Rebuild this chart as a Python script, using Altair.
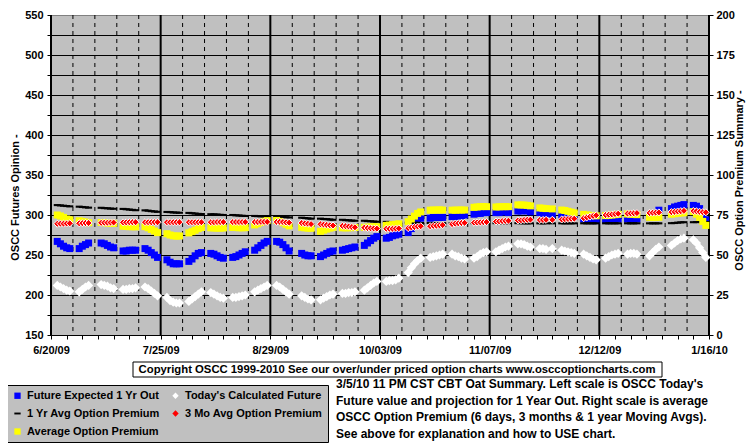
import altair as alt
import pandas as pd

FONT = "Liberation Sans"

# ---------------- data ----------------
holidays = ["2009-07-03", "2009-09-07", "2009-11-26", "2009-12-25", "2010-01-01"]
days = [d for d in pd.bdate_range("2009-06-22", "2010-01-15").strftime("%Y-%m-%d") if d not in holidays]

# Future Expected 1 Yr Out (left scale)
future_1yr = [
    267, 264, 261, 259, 258,
    258, 261, 263, 265,
    265, 264, 262, 260, 259,
    255, 255, 256, 256, 256,
    258, 256, 253, 250, 247,
    244, 241, 239, 239, 239,
    242, 245, 249, 252, 253,
    252, 251, 249, 247, 246,
    247, 248, 250, 252, 254,
    256, 259, 262, 265, 267,
    267, 266, 263, 259, 255,
    252, 250, 249, 249,
    248, 250, 252, 254, 255,
    256, 257, 258, 259, 260,
    262, 265, 268, 271, 273,
    271, 272, 274, 275, 276,
    278, 283, 288, 293, 296,
    296, 297, 297, 297, 297,
    298, 298, 299, 299, 300,
    301, 302, 302, 303, 303,
    303, 303, 304, 304, 303,
    305, 305, 306, 305, 304,
    303, 302, 302, 301,
    300, 300, 299, 298, 298,
    295, 294, 294, 293, 293,
    294, 294, 295, 295, 295,
    295, 295, 295, 295,
    297, 299, 302, 306,
    308, 310, 311, 312, 313,
    312, 311, 308, 300, 294,
]

# Today's Calculated Future (left scale)
today_calc = [
    212, 210, 208, 206, 205,
    204, 207, 210, 212,
    213, 212, 211, 209, 208,
    207, 207, 208, 208, 209,
    210, 208, 205, 202, 199,
    197, 193, 191, 190, 190,
    192, 195, 198, 201, 204,
    203, 201, 199, 197, 196,
    197, 197, 198, 199, 200,
    204, 206, 208, 210, 212,
    212, 210, 207, 204, 201,
    199, 197, 195, 194,
    194, 196, 198, 200, 201,
    202, 202, 203, 203, 204,
    206, 209, 212, 215, 217,
    217, 218, 218, 219, 221,
    228, 234, 239, 243, 246,
    247, 248, 249, 250, 251,
    251, 249, 248, 246, 245,
    246, 248, 251, 253, 254,
    254, 256, 258, 260, 261,
    264, 264, 263, 261, 260,
    258, 258, 257, 258,
    256, 255, 254, 253, 252,
    251, 249, 247, 245, 244,
    246, 248, 250, 251, 252,
    251, 252, 252, 251,
    249, 253, 257, 260,
    262, 265, 268, 270, 271,
    269, 265, 259, 253, 247,
]

# 1 Yr Avg Option Premium (right scale)
avg_1yr = [
    81.2, 81.0, 80.8, 80.6, 80.4,
    80.2, 80.0, 79.8, 79.6,
    79.5, 79.3, 79.2, 79.0, 78.9,
    78.8, 78.6, 78.4, 78.2, 78.0,
    77.9, 77.7, 77.4, 77.2, 77.0,
    76.9, 76.8, 76.6, 76.5, 76.4,
    76.3, 76.1, 75.9, 75.7, 75.6,
    75.5, 75.4, 75.3, 75.1, 75.0,
    75.0, 74.8, 74.7, 74.5, 74.4,
    74.4, 74.3, 74.2, 74.1, 74.0,
    74.0, 73.9, 73.7, 73.6, 73.5,
    73.3, 73.1, 72.9, 72.7,
    72.7, 72.5, 72.4, 72.2, 72.0,
    72.0, 71.8, 71.7, 71.5, 71.4,
    71.4, 71.2, 71.1, 70.9, 70.8,
    70.7, 70.6, 70.5, 70.4, 70.3,
    70.2, 70.2, 70.1, 70.1, 70.0,
    70.0, 70.0, 70.0, 69.9, 69.9,
    69.9, 69.9, 69.9, 69.9, 69.9,
    69.9, 69.9, 69.9, 69.9, 69.9,
    69.9, 69.9, 69.9, 69.9, 69.9,
    69.9, 69.9, 69.8, 69.8, 69.8,
    69.8, 69.8, 69.8, 69.8,
    69.8, 69.8, 69.8, 69.8, 69.8,
    69.8, 69.8, 69.8, 69.8, 69.8,
    69.8, 69.8, 69.8, 69.8, 69.8,
    69.8, 69.8, 69.8, 69.8,
    69.8, 69.8, 69.8, 69.8,
    69.9, 70.0, 70.2, 70.4, 70.5,
    70.5, 70.6, 70.6, 70.6, 70.6,
]

# 3 Mo Avg Option Premium (right scale)
avg_3mo = [
    69.5, 69.6, 69.6, 69.7, 69.8,
    69.8, 69.9, 70.0, 70.0,
    70.1, 70.2, 70.2, 70.3, 70.3,
    70.4, 70.4, 70.5, 70.5, 70.5,
    70.5, 70.5, 70.5, 70.5, 70.5,
    70.5, 70.5, 70.5, 70.5, 70.5,
    70.5, 70.5, 70.5, 70.5, 70.5,
    70.5, 70.5, 70.6, 70.6, 70.6,
    70.6, 70.6, 70.6, 70.6, 70.6,
    70.6, 70.6, 70.7, 70.7, 70.7,
    70.7, 70.7, 70.6, 70.4, 70.2,
    70.0, 69.7, 69.5, 69.3,
    69.2, 69.0, 68.8, 68.6, 68.4,
    68.2, 68.0, 67.8, 67.5, 67.3,
    67.1, 66.9, 66.7, 66.6, 66.5,
    66.4, 66.4, 66.4, 66.5, 66.6,
    66.8, 67.2, 67.5, 67.8, 68.0,
    68.0, 68.2, 68.3, 68.5, 68.7,
    69.3, 69.6, 69.8, 70.0, 70.1,
    70.2, 70.3, 70.4, 70.5, 70.6,
    70.9, 71.0, 71.2, 71.3, 71.4,
    71.6, 71.7, 71.9, 72.0, 72.1,
    71.9, 71.9, 72.0, 72.0,
    72.2, 72.4, 72.5, 72.6, 72.7,
    73.0, 73.5, 74.0, 74.4, 74.8,
    75.0, 75.2, 75.4, 75.6, 75.8,
    75.9, 76.0, 76.1, 76.2,
    76.3, 76.4, 76.5, 76.6,
    76.8, 77.0, 77.2, 77.4, 77.6,
    77.5, 77.3, 77.0, 76.8, 76.7,
]

# Average Option Premium (right scale)
avg_prem = [
    75.0, 74.4, 73.5, 72.5, 72.0,
    71.4, 71.0, 70.6, 70.2,
    70.3, 70.2, 70.0, 69.8, 69.8,
    68.0, 67.8, 67.7, 67.7, 67.6,
    67.7, 67.0, 66.0, 65.0, 64.0,
    63.3, 62.5, 62.0, 61.8, 61.9,
    63.8, 64.6, 65.5, 66.5, 67.2,
    67.0, 66.9, 66.8, 66.8, 66.9,
    67.2, 67.2, 67.0, 67.0, 67.1,
    68.8, 69.5, 70.3, 71.0, 71.5,
    71.6, 71.0, 70.2, 69.2, 68.2,
    67.3, 67.0, 66.8, 66.7,
    64.8, 65.5, 66.2, 66.8, 67.3,
    67.0, 67.0, 67.0, 67.1, 67.2,
    67.3, 67.4, 67.5, 67.6, 67.7,
    68.5, 68.7, 69.0, 69.2, 69.5,
    70.8, 72.5, 74.3, 76.0, 76.9,
    78.0, 78.1, 78.1, 78.2, 78.1,
    78.0, 78.0, 78.1, 78.1, 78.1,
    79.8, 80.0, 80.2, 80.3, 80.2,
    80.0, 80.1, 80.2, 80.2, 80.2,
    81.3, 81.3, 81.2, 81.0, 80.7,
    79.4, 79.2, 79.0, 78.8,
    78.1, 77.8, 77.3, 76.8, 76.3,
    75.4, 75.0, 74.8, 74.6, 74.5,
    74.6, 74.8, 75.0, 75.2, 75.4,
    75.6, 75.5, 75.4, 75.2,
    73.5, 73.5, 73.6, 73.6,
    75.5, 75.8, 76.1, 76.3, 76.4,
    77.1, 75.5, 73.5, 71.0, 68.5,
]

series_names = [
    "Future Expected 1 Yr Out",
    "Today's Calculated Future",
    "1 Yr Avg Option Premium",
    "3 Mo Avg Option Premium",
    "Average Option Premium",
]
series_colors = ["#0000FF", "#FFFFFF", "#000000", "#FF0000", "#FFFF00"]
DASH = "M-1,-0.3L1,-0.3L1,0.3L-1,0.3Z"
series_shapes = ["square", "diamond", DASH, "diamond", "square"]

major_dates = ["2009-06-20", "2009-07-25", "2009-08-29", "2009-10-03",
               "2009-11-07", "2009-12-12", "2010-01-16"]
weekly_dates = [d for d in pd.date_range("2009-06-27", "2010-01-09", freq="7D").strftime("%Y-%m-%d")
                if d not in major_dates]
tick_dates = pd.date_range("2009-06-20", "2010-01-16", freq="5D")

left_ticks = list(range(150, 551, 25))
right_ticks = list(range(0, 201, 25))

COPYRIGHT = "Copyright OSCC 1999-2010 See our over/under priced option charts www.osccoptioncharts.com"
INFO_LINES = [
    "3/5/10 11 PM CST CBT Oat Summary. Left scale is OSCC Today's",
    "Future value and projection for 1 Year Out. Right scale is average",
    "OSCC Option Premium (6  days, 3 months & 1 year Moving  Avgs).",
    "See above for explanation and how to USE chart.",
]

for s in (future_1yr, today_calc, avg_1yr, avg_3mo, avg_prem):
    assert len(s) == len(days), (len(s), len(days))

# ---------------- scales / axes ----------------
def dt(d):
    return alt.DateTime(year=d.year, month=d.month, date=d.day, utc=True)

x_scale = alt.Scale(type="utc", domain=[dt(pd.Timestamp("2009-06-20")), dt(pd.Timestamp("2010-01-16"))])
x_axis = alt.Axis(
    values=[dt(d) for d in tick_dates],
    labelExpr="(round((datum.value - utc(2009,5,20)) / 86400000) % 35 == 0) ? utcFormat(datum.value, '%-m/%d/%y') : ''",
    labelOverlap=False, labelFlush=False, grid=False, tickSize=4, labelPadding=5,
    title=None, domainColor="black", tickColor="black",
)
y_left_scale = alt.Scale(domain=[150, 550], nice=False, zero=False)
y_right_scale = alt.Scale(domain=[0, 200], nice=False, zero=False)
y_left_axis = alt.Axis(
    orient="left", values=left_ticks,
    labelExpr="datum.value % 50 == 0 ? datum.label : ''",
    grid=True, gridColor={"condition": {"test": "datum.value == 550", "value": "#808080"}, "value": "black"},
    gridWidth=1, gridOpacity=1, tickSize=4, labelPadding=4, domainColor="black", tickColor="black",
    title="OSCC Futures Opinion -", titleAngle=270, titleX=-36, titleY=182,
    titleAlign="center", titleBaseline="middle",
)
y_right_axis = alt.Axis(
    orient="right", values=right_ticks, grid=False, tickSize=4, labelPadding=3,
    domainColor="black", tickColor="black",
    title="OSCC Option Premium Summary -", titleAngle=270, titleX=30, titleY=165,
    titleAlign="center", titleBaseline="middle",
)

legend = alt.Legend(
    title=None, orient="none", legendX=-44, legendY=370, columns=2, direction="horizontal",
    fillColor="#C0C0C0", strokeColor="black", padding=5, columnPadding=10, rowPadding=6,
    labelFont=FONT, labelFontSize=11, labelFontWeight="bold", labelColor="black",
    symbolSize=40, symbolStrokeWidth=0, labelLimit=300, labelOffset=4,
)
color_scale = alt.Scale(domain=series_names, range=series_colors)
shape_scale = alt.Scale(domain=series_names, range=series_shapes)


def series_layer(vals, name, yscale, yaxis, size, **mk):
    df = pd.DataFrame({"date": days, "value": vals, "series": name})
    return alt.Chart(df).mark_point(filled=True, size=size, opacity=1, **mk).encode(
        x=alt.X("date:T", scale=x_scale, axis=x_axis),
        y=alt.Y("value:Q", scale=yscale, axis=yaxis),
        color=alt.Color("series:N", scale=color_scale, legend=legend),
        shape=alt.Shape("series:N", scale=shape_scale, legend=legend),
    )


left_layer = alt.layer(
    series_layer(future_1yr, series_names[0], y_left_scale, y_left_axis, 49),
    series_layer(today_calc, series_names[1], y_left_scale, y_left_axis, 85),
)
right_layer = alt.layer(
    series_layer(avg_1yr, series_names[2], y_right_scale, y_right_axis, 49),
    series_layer(avg_prem, series_names[4], y_right_scale, y_right_axis, 49),
    series_layer(avg_3mo, series_names[3], y_right_scale, y_right_axis, 50, stroke="white", strokeWidth=1),
)

weekly_rules = alt.Chart(pd.DataFrame({"date": weekly_dates})).mark_rule(
    color="black", strokeWidth=1, strokeDash=[4, 4], opacity=1
).encode(x=alt.X("date:T", scale=x_scale, axis=x_axis))
major_rules = alt.Chart(pd.DataFrame({"date": major_dates})).mark_rule(
    color="black", strokeWidth=2, opacity=1
).encode(x=alt.X("date:T", scale=x_scale, axis=x_axis))

anno = pd.DataFrame({"k": [0]})
copy_box = alt.Chart(anno).mark_rect(fill="white", stroke="black", strokeWidth=1).encode(
    x=alt.value(82), x2=alt.value(611), y=alt.value(347), y2=alt.value(362)
)
copy_text = alt.Chart(anno).mark_text(
    text=COPYRIGHT, font=FONT, fontSize=11.3, fontWeight="bold", align="center",
    baseline="middle", color="black"
).encode(x=alt.value(346), y=alt.value(355))
info_text = alt.Chart(anno).mark_text(
    text=INFO_LINES, font=FONT, fontSize=12, fontWeight="bold", align="left",
    baseline="top", color="black", lineHeight=16.7
).encode(x=alt.value(285), y=alt.value(364))

chart = alt.layer(
    weekly_rules, major_rules, left_layer, right_layer, copy_box, copy_text, info_text
).resolve_scale(
    y="independent"
).properties(
    width=658, height=320,
    autosize=alt.AutoSizeParams(type="none"),
    padding={"left": 43, "top": 7, "right": 38, "bottom": 109},
    title=alt.TitleParams("#REF!", font=FONT, fontSize=13, fontWeight="bold", anchor="middle",
                          offset=2, dx=-14, baseline="alphabetic", color="black"),
).configure(
    font=FONT, background="white"
).configure_view(
    fill="#C0C0C0", stroke="#808080", strokeWidth=1
).configure_axis(
    labelFont=FONT, labelFontSize=11, labelFontWeight="bold", labelColor="black",
    titleFont=FONT, titleFontSize=11, titleFontWeight="bold", titleColor="black",
)

chart.save("out.html", embed_options={"renderer": "svg", "actions": False})
